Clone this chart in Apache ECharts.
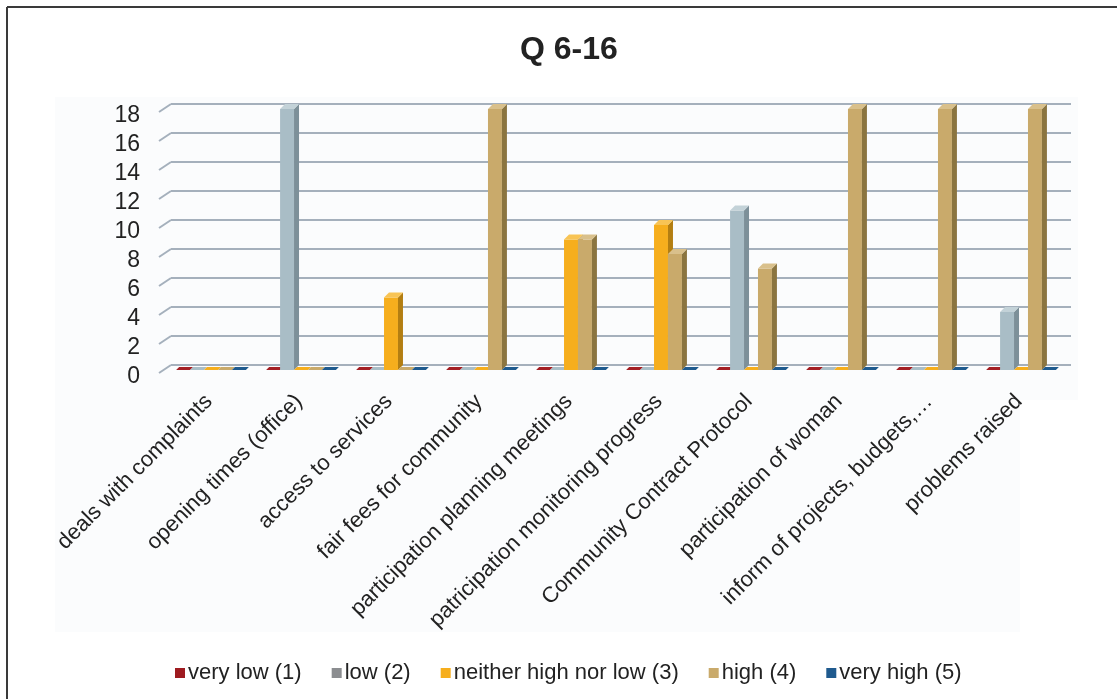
<!DOCTYPE html>
<html>
<head>
<meta charset="utf-8">
<title>Q 6-16</title>
<script src="https://cdn.jsdelivr.net/npm/echarts@6/dist/echarts.min.js"></script>
<style>
  html, body { margin: 0; padding: 0; background: #ffffff; }
  #chart { width: 1117px; height: 699px; }
</style>
</head>
<body>
<div id="chart"></div>
<script>
// Survey answers per question, counted by rating
const categories = [
  'deals with complaints',
  'opening times (office)',
  'access to services',
  'fair fees for community',
  'participation planning meetings',
  'patricipation monitoring progress',
  'Community Contract Protocol',
  'participation of woman',
  'inform of projects, budgets,…',
  'problems raised'
];
const seriesNames = ['very low (1)', 'low (2)', 'neither high nor low (3)', 'high (4)', 'very high (5)'];
const veryLow  = [0, 0, 0, 0, 0, 0, 0, 0, 0, 0];
const low      = [0, 18, 0, 0, 0, 0, 11, 0, 0, 4];
const neither  = [0, 0, 5, 0, 9, 10, 0, 0, 0, 0];
const high     = [0, 0, 0, 18, 9, 8, 7, 18, 18, 18];
const veryHigh = [0, 0, 0, 0, 0, 0, 0, 0, 0, 0];
const yTicks   = [0, 2, 4, 6, 8, 10, 12, 14, 16, 18];

// face colours: front, side, top, legend swatch
const palette = [
  { front: '#a31f24', side: '#6e1418', top: '#c0393d', legend: '#9e1b20' },
  { front: '#a9bdc6', side: '#7d9099', top: '#c3d2d8', legend: '#8b8d90' },
  { front: '#f6ae1d', side: '#b37e12', top: '#f8c455', legend: '#f6ae1d' },
  { front: '#c9aa6b', side: '#8b7540', top: '#d9c08b', legend: '#c9aa6b' },
  { front: '#1f5a8e', side: '#123c60', top: '#3b77ab', legend: '#1f5a8e' }
];

const FONT = "'Liberation Sans', Arial, sans-serif";
const SHIFT = 5;   // front plane sits this far left/down of the back wall
const DEPTH = 5;   // bar depth in pixels

function barRenderer(k) {
  return function (params, api) {
    const ci = api.value(0);
    const v = api.value(1);
    const base = api.coord([ci, 0]);
    const top = api.coord([ci, v]);
    const bw = api.size([1, 0])[0];
    const barW = bw * 0.155;
    const x0 = base[0] - 2.5 * barW + k * barW - SHIFT;
    const x1 = x0 + barW;
    const yb = base[1] + SHIFT;
    const yt = top[1] + SHIFT;
    const c = palette[k];
    if (v === 0) {
      const d = 3;
      return {
        type: 'polygon',
        shape: { points: [[x0, yb], [x1, yb], [x1 + d, yb - d], [x0 + d, yb - d]] },
        style: { fill: c.front }
      };
    }
    return {
      type: 'group',
      children: [
        { type: 'rect', shape: { x: x0, y: yt, width: barW, height: yb - yt }, style: { fill: c.front } },
        { type: 'polygon', shape: { points: [[x1, yt], [x1 + DEPTH, yt - DEPTH], [x1 + DEPTH, yb - DEPTH], [x1, yb]] }, style: { fill: c.side } },
        { type: 'polygon', shape: { points: [[x0, yt], [x1, yt], [x1 + DEPTH, yt - DEPTH], [x0 + DEPTH, yt - DEPTH]] }, style: { fill: c.top } }
      ]
    };
  };
}

const valueSets = [veryLow, low, neither, high, veryHigh];
const barSeries = valueSets.map(function (vals, k) {
  return {
    name: seriesNames[k],
    type: 'custom',
    renderItem: barRenderer(k),
    itemStyle: { color: palette[k].legend },
    encode: { x: 0, y: 1 },
    data: vals.map(function (v, i) { return [i, v]; }),
    z: 3,
    silent: true
  };
});

// slanted side-wall strokes at each gridline
const wallSeries = {
  type: 'custom',
  silent: true,
  z: 1,
  renderItem: function (params, api) {
    const p = api.coord([0, api.value(1)]);
    const x = params.coordSys.x;
    return {
      type: 'line',
      shape: { x1: x - 12, y1: p[1] + 8, x2: x, y2: p[1] },
      style: { stroke: '#a5b0bc', lineWidth: 2 }
    };
  },
  encode: { x: 0, y: 1 },
  data: yTicks.map(function (t) { return [0, t]; })
};

const chart = echarts.init(document.getElementById('chart'), null, { renderer: 'canvas' });
chart.setOption({
  animation: false,
  backgroundColor: '#ffffff',
  textStyle: { fontFamily: FONT },
  graphic: [
    { type: 'rect', z: -10, silent: true, shape: { x: 55, y: 97, width: 1023, height: 303 }, style: { fill: '#fbfcfd' } },
    { type: 'rect', z: -10, silent: true, shape: { x: 55, y: 400, width: 965, height: 232 }, style: { fill: '#fbfcfd' } },
    { type: 'line', z: 10, silent: true, shape: { x1: 7, y1: 7, x2: 1117, y2: 7 }, style: { stroke: '#3a3a3a', lineWidth: 2 } },
    { type: 'line', z: 10, silent: true, shape: { x1: 7, y1: 7, x2: 7, y2: 699 }, style: { stroke: '#3a3a3a', lineWidth: 2 } }
  ],
  title: {
    text: 'Q 6-16',
    left: 515,
    top: 29,
    textStyle: { fontFamily: FONT, fontSize: 32, fontWeight: 'bold', color: '#222222' }
  },
  legend: {
    data: seriesNames.map(function (n, k) { return { name: n, itemStyle: { color: palette[k].legend } }; }),
    left: 170,
    top: 657,
    icon: 'rect',
    itemWidth: 10,
    itemHeight: 10,
    itemGap: 30,
    textStyle: { fontFamily: FONT, fontSize: 22, color: '#222222', padding: [0, 0, 0, -2] }
  },
  grid: { left: 171, right: 46, top: 104, bottom: 334, containLabel: false },
  xAxis: {
    type: 'category',
    data: categories,
    axisLine: { show: false },
    axisTick: { show: false },
    splitLine: { show: false },
    axisLabel: {
      interval: 0,
      rotate: 45,
      margin: 26,
      padding: [0, 10, 0, 0],
      fontFamily: FONT,
      fontSize: 22,
      color: '#222222'
    }
  },
  yAxis: {
    type: 'value',
    min: 0,
    max: 18,
    interval: 2,
    axisLine: { show: false },
    axisTick: { show: false },
    splitLine: { show: true, lineStyle: { color: '#a5b0bc', width: 2 } },
    axisLabel: {
      margin: 31,
      fontFamily: FONT,
      fontSize: 23,
      color: '#222222',
      verticalAlign: 'top'
    }
  },
  series: [wallSeries].concat(barSeries)
});
</script>
</body>
</html>
